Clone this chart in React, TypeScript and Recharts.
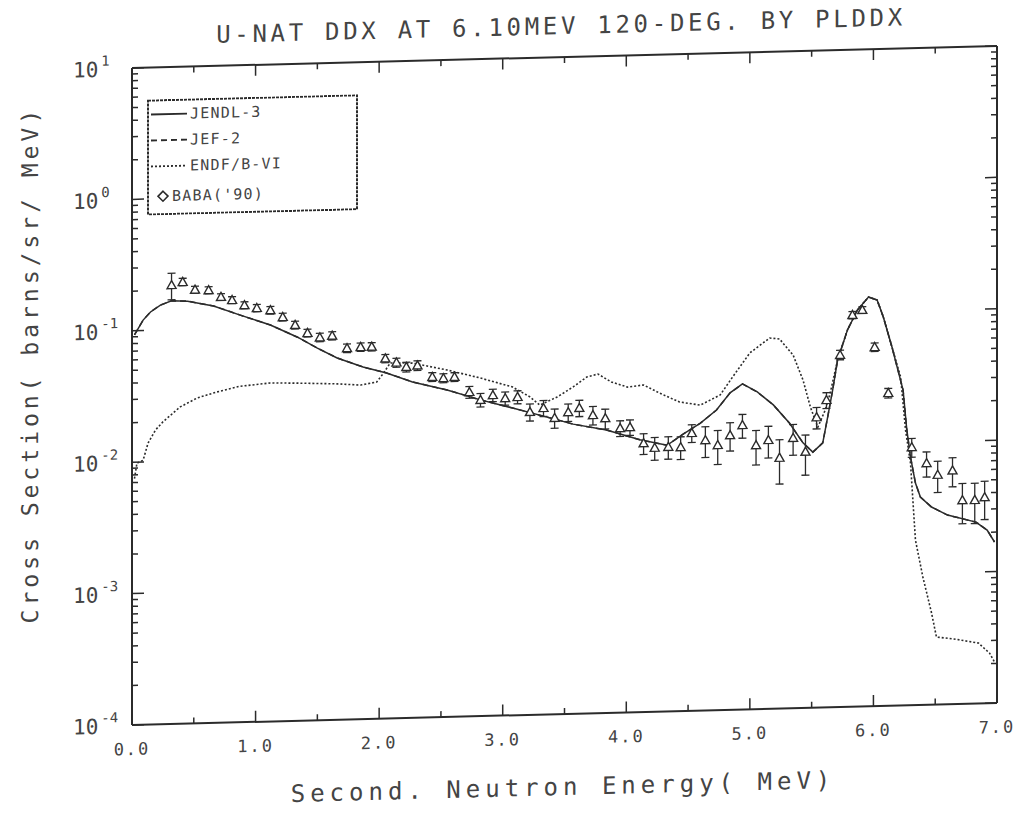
import React from 'react';
import { ComposedChart, Line, Scatter, XAxis, YAxis, ErrorBar, Legend } from 'recharts';

// energies in MeV, cross sections in barns/sr/MeV
const jendlE = [0.02, 0.09, 0.15, 0.23, 0.32, 0.45, 0.66, 0.87, 1.12, 1.34, 1.5, 1.66, 1.87, 2.06, 2.27, 2.55, 2.82, 3.08, 3.36, 3.57, 3.84, 4.11, 4.33, 4.46, 4.6, 4.73, 4.84, 4.94, 5.06, 5.19, 5.32, 5.43, 5.51, 5.59, 5.63, 5.67, 5.71, 5.79, 5.87, 5.96, 6.03, 6.08, 6.15, 6.24, 6.27, 6.3, 6.34, 6.38, 6.47, 6.6, 6.83, 6.92, 6.98];
const jendlV = [0.093, 0.12, 0.138, 0.155, 0.166, 0.164, 0.149, 0.126, 0.104, 0.083, 0.068, 0.0567, 0.0478, 0.0426, 0.036, 0.0308, 0.0255, 0.0218, 0.0183, 0.016, 0.0142, 0.0118, 0.0106, 0.0128, 0.0154, 0.0192, 0.0258, 0.03, 0.0259, 0.0205, 0.0148, 0.0104, 0.0088, 0.0103, 0.0162, 0.0259, 0.0438, 0.0738, 0.104, 0.13, 0.123, 0.091, 0.0536, 0.0251, 0.0125, 0.00774, 0.00489, 0.00382, 0.00319, 0.00275, 0.0024, 0.00208, 0.00168];

// JEF-2 lies on top of JENDL-3 everywhere in the scan
const jefE = [0.02, 0.09, 0.15, 0.23, 0.32, 0.45, 0.66, 0.87, 1.12, 1.34, 1.5, 1.66, 1.87, 2.06, 2.27, 2.55, 2.82, 3.08, 3.36, 3.57, 3.84, 4.11, 4.33, 4.46, 4.6, 4.73, 4.84, 4.94, 5.06, 5.19, 5.32, 5.43, 5.51, 5.59, 5.63, 5.67, 5.71, 5.79, 5.87, 5.96, 6.03, 6.08, 6.15, 6.24, 6.27, 6.3, 6.34, 6.38, 6.47, 6.6, 6.83, 6.92, 6.98];
const jefV = [0.093, 0.12, 0.138, 0.155, 0.166, 0.164, 0.149, 0.126, 0.104, 0.083, 0.068, 0.0567, 0.0478, 0.0426, 0.036, 0.0308, 0.0255, 0.0218, 0.0183, 0.016, 0.0142, 0.0118, 0.0106, 0.0128, 0.0154, 0.0192, 0.0258, 0.03, 0.0259, 0.0205, 0.0148, 0.0104, 0.0088, 0.0103, 0.0162, 0.0259, 0.0438, 0.0738, 0.104, 0.13, 0.123, 0.091, 0.0536, 0.0251, 0.0125, 0.00774, 0.00489, 0.00382, 0.00319, 0.00275, 0.0024, 0.00208, 0.00168];

const endfE = [0.02, 0.04, 0.09, 0.13, 0.19, 0.25, 0.39, 0.53, 0.69, 0.87, 1.12, 1.38, 1.66, 1.85, 1.98, 2.03, 2.09, 2.27, 2.55, 2.82, 3.08, 3.22, 3.3, 3.44, 3.57, 3.68, 3.77, 3.88, 4.01, 4.14, 4.27, 4.43, 4.6, 4.76, 4.86, 5.0, 5.16, 5.24, 5.35, 5.43, 5.49, 5.55, 5.61, 5.65, 5.71, 5.79, 5.87, 5.96, 6.03, 6.08, 6.15, 6.22, 6.26, 6.3, 6.34, 6.4, 6.47, 6.51, 6.65, 6.85, 6.94, 6.98];
const endfV = [0.0075, 0.0098, 0.0103, 0.0139, 0.0174, 0.02, 0.0258, 0.03, 0.033, 0.036, 0.0377, 0.037, 0.036, 0.0349, 0.0365, 0.0419, 0.0507, 0.0501, 0.0437, 0.0374, 0.0315, 0.0263, 0.0227, 0.0259, 0.0307, 0.0363, 0.0381, 0.0329, 0.0299, 0.0308, 0.0265, 0.0225, 0.0211, 0.025, 0.034, 0.0515, 0.0663, 0.0649, 0.0487, 0.0313, 0.0194, 0.0136, 0.0183, 0.0246, 0.0438, 0.0738, 0.104, 0.13, 0.123, 0.091, 0.0536, 0.0316, 0.0124, 0.00695, 0.0018, 0.00094, 0.0005, 0.000326, 0.000313, 0.000288, 0.00024, 0.000205];

const babaE = [0.32, 0.41, 0.51, 0.62, 0.72, 0.81, 0.91, 1.01, 1.12, 1.22, 1.32, 1.42, 1.52, 1.62, 1.74, 1.85, 1.94, 2.05, 2.14, 2.22, 2.31, 2.43, 2.52, 2.61, 2.73, 2.82, 2.92, 3.02, 3.12, 3.22, 3.33, 3.42, 3.53, 3.62, 3.73, 3.83, 3.95, 4.03, 4.14, 4.23, 4.34, 4.44, 4.53, 4.64, 4.74, 4.84, 4.94, 5.05, 5.15, 5.24, 5.35, 5.45, 5.54, 5.62, 5.73, 5.83, 5.91, 6.01, 6.12, 6.31, 6.43, 6.52, 6.64, 6.72, 6.82, 6.9];
const babaV = [0.219, 0.23, 0.2, 0.197, 0.174, 0.164, 0.149, 0.141, 0.135, 0.119, 0.103, 0.089, 0.082, 0.084, 0.067, 0.068, 0.068, 0.055, 0.051, 0.047, 0.048, 0.039, 0.038, 0.0386, 0.0294, 0.0255, 0.0276, 0.026, 0.0264, 0.0202, 0.0215, 0.018, 0.0198, 0.0212, 0.0186, 0.0175, 0.0146, 0.0148, 0.0111, 0.0102, 0.0103, 0.0102, 0.013, 0.0114, 0.0104, 0.0123, 0.0146, 0.0102, 0.0111, 0.0081, 0.0114, 0.0089, 0.0162, 0.0218, 0.0478, 0.0957, 0.104, 0.054, 0.024, 0.0092, 0.0069, 0.0056, 0.006, 0.00355, 0.00354, 0.0037];
const babaErr = [0.05, 0.015, 0.012, 0.012, 0.01, 0.01, 0.009, 0.009, 0.009, 0.008, 0.007, 0.006, 0.006, 0.006, 0.005, 0.005, 0.005, 0.004, 0.004, 0.004, 0.004, 0.003, 0.003, 0.003, 0.003, 0.003, 0.003, 0.003, 0.003, 0.003, 0.003, 0.003, 0.003, 0.003, 0.003, 0.003, 0.002, 0.002, 0.002, 0.002, 0.002, 0.002, 0.002, 0.003, 0.003, 0.003, 0.003, 0.003, 0.003, 0.003, 0.003, 0.003, 0.003, 0.003, 0.004, 0.006, 0.006, 0.004, 0.002, 0.0015, 0.0015, 0.0015, 0.0015, 0.0012, 0.0012, 0.0012];

const xTicks = [0, 0.5, 1, 1.5, 2, 2.5, 3, 3.5, 4, 4.5, 5, 5.5, 6, 6.5, 7];
const decades = [-4, -3, -2, -1, 0];
const mantissas = [1, 2, 3, 4, 5, 6, 7, 8, 9];
const yTicks = decades.flatMap(d => mantissas.map(m => m * Math.pow(10, d))).concat(10);

const LEGEND_ITEMS = [
  { name: 'JENDL-3', dash: undefined },
  { name: 'JEF-2', dash: '6 4' },
  { name: 'ENDF/B-VI', dash: '2 2' },
];

const INK = '#2b2b2b';
const TEXT = '#444';
const MONO = '"DejaVu Sans Mono", "Liberation Mono", monospace';

const toPoints = (e: number[], v: number[]) => e.map((x, i) => ({ e: x, v: v[i] }));
const babaPoints = babaE.map((x, i) => ({ e: x, v: babaV[i], err: babaErr[i] }));

function XTick(props: any) {
  const { x, y, payload, orient } = props;
  const v = payload.value;
  const major = Math.abs(v - Math.round(v)) < 1e-6;
  const len = major ? 11 : 6;
  const dir = orient === 'bottom' ? -1 : 1;
  return (
    <g>
      <line x1={x} y1={y} x2={x} y2={y + dir * len} stroke={INK} strokeWidth={1.5} />
      {major && orient === 'bottom' && (
        <text x={x} y={y + 30} textAnchor="middle" fontFamily={MONO} fontSize={17} letterSpacing={2} fill={TEXT}>
          {v.toFixed(1)}
        </text>
      )}
    </g>
  );
}

function YTick(props: any) {
  const { x, y, payload, side } = props;
  const lg = Math.log10(payload.value);
  const exp = Math.round(lg);
  const major = Math.abs(lg - exp) < 1e-6;
  const len = major ? 12 : 6;
  const dir = side === 'left' ? 1 : -1;
  return (
    <g>
      <line x1={x} y1={y} x2={x + dir * len} y2={y} stroke={INK} strokeWidth={1.5} />
      {major && side === 'left' && (
        <text x={x - 59} y={y + 8} fontFamily={MONO} fontSize={21} fill={TEXT}>
          10
          <tspan dx={3} dy={-11} fontSize={14}>{exp}</tspan>
        </text>
      )}
    </g>
  );
}

function Marker(props: any) {
  const { cx, cy } = props;
  if (cx == null || cy == null) return null;
  return (
    <path
      d={`M${cx},${cy - 4.5}L${cx + 4.5},${cy + 3.5}L${cx - 4.5},${cy + 3.5}Z`}
      fill="#fff"
      stroke={INK}
      strokeWidth={1.4}
    />
  );
}

function LegendBox() {
  return (
    <svg width={211} height={116}>
      <rect x={1} y={1} width={209} height={114} fill="#fff" stroke={INK} strokeWidth={2} strokeDasharray="3 1" />
      {LEGEND_ITEMS.map((it, i) => (
        <g key={it.name}>
          <line x1={4} x2={40} y1={15 + i * 26} y2={15 + i * 26} stroke={INK} strokeWidth={1.8} strokeDasharray={it.dash} />
          <text x={43} y={20 + i * 26} fontFamily={MONO} fontSize={15} letterSpacing={1.2} fill={TEXT}>{it.name}</text>
        </g>
      ))}
      <path d="M16,92 L21,97 L16,102 L11,97 Z" fill="#fff" stroke={INK} strokeWidth={1.6} />
      <text x={25} y={102} fontFamily={MONO} fontSize={15} letterSpacing={1.2} fill={TEXT}>BABA('90)</text>
    </svg>
  );
}

export default function App() {
  return (
    <div
      style={{
        position: 'absolute',
        left: 0,
        top: 0,
        width: 1017,
        height: 813,
        background: '#fff',
        transform: 'skewY(-1.46deg)',
        transformOrigin: '132px 0px',
      }}
    >
      <div
        style={{
          position: 'absolute',
          left: 0,
          width: 1017,
          top: 23,
          textAlign: 'center',
          paddingLeft: 105,
          boxSizing: 'border-box',
          fontFamily: MONO,
          fontSize: 24,
          letterSpacing: 3.7,
          color: TEXT,
        }}
      >
        U-NAT DDX AT 6.10MEV 120-DEG. BY PLDDX
      </div>
      <div
        style={{
          position: 'absolute',
          left: 30,
          top: 362,
          transform: 'translate(-50%, -50%) rotate(-90deg)',
          whiteSpace: 'nowrap',
          fontFamily: MONO,
          fontSize: 23,
          letterSpacing: 4,
          color: TEXT,
        }}
      >
        Cross Section( barns/sr/ MeV)
      </div>
      <div
        style={{
          position: 'absolute',
          left: 563,
          top: 798,
          transform: 'translate(-50%, -50%)',
          whiteSpace: 'nowrap',
          fontFamily: MONO,
          fontSize: 24,
          letterSpacing: 5,
          color: TEXT,
        }}
      >
        Second. Neutron Energy( MeV)
      </div>
      <ComposedChart width={1017} height={813} margin={{ top: 0, right: 0, bottom: 0, left: 0 }}>
        <XAxis
          xAxisId="b"
          type="number"
          dataKey="e"
          orientation="bottom"
          domain={[0, 7]}
          ticks={xTicks}
          interval={0}
          allowDataOverflow
          height={88}
          tickSize={0}
          tickMargin={0}
          tickLine={false}
          axisLine={{ stroke: INK, strokeWidth: 2 }}
          tick={(p: any) => <XTick {...p} orient="bottom" />}
        />
        <XAxis
          xAxisId="t"
          type="number"
          dataKey="e"
          orientation="top"
          domain={[0, 7]}
          ticks={xTicks}
          interval={0}
          allowDataOverflow
          height={68}
          tickSize={0}
          tickMargin={0}
          tickLine={false}
          axisLine={{ stroke: INK, strokeWidth: 2 }}
          tick={(p: any) => <XTick {...p} orient="top" />}
        />
        <YAxis
          yAxisId="l"
          type="number"
          scale="log"
          domain={[1e-4, 10]}
          ticks={yTicks}
          interval={0}
          allowDataOverflow
          width={132}
          tickSize={0}
          tickMargin={0}
          tickLine={false}
          axisLine={{ stroke: INK, strokeWidth: 2 }}
          tick={(p: any) => <YTick {...p} side="left" />}
        />
        <YAxis
          yAxisId="r"
          orientation="right"
          type="number"
          scale="log"
          domain={[1e-4, 10]}
          ticks={yTicks}
          interval={0}
          allowDataOverflow
          width={20}
          tickSize={0}
          tickMargin={0}
          tickLine={false}
          axisLine={{ stroke: INK, strokeWidth: 2 }}
          tick={(p: any) => <YTick {...p} side="right" />}
        />
        <Legend
          layout="vertical"
          align="center"
          verticalAlign="middle"
          wrapperStyle={{ position: 'absolute', left: 147, top: 100, width: 211, height: 116 }}
          content={() => <LegendBox />}
        />
        <Line
          xAxisId="b"
          yAxisId="l"
          data={toPoints(endfE, endfV)}
          dataKey="v"
          name="ENDF/B-VI"
          stroke={INK}
          strokeWidth={1.6}
          strokeDasharray="2 2"
          dot={false}
          isAnimationActive={false}
        />
        <Line
          xAxisId="b"
          yAxisId="l"
          data={toPoints(jendlE, jendlV)}
          dataKey="v"
          name="JENDL-3"
          stroke={INK}
          strokeWidth={1.5}
          dot={false}
          isAnimationActive={false}
        />
        <Line
          xAxisId="b"
          yAxisId="l"
          data={toPoints(jefE, jefV)}
          dataKey="v"
          name="JEF-2"
          stroke={INK}
          strokeWidth={1.5}
          strokeDasharray="6 4"
          dot={false}
          isAnimationActive={false}
        />
        <Scatter
          xAxisId="b"
          yAxisId="l"
          data={babaPoints}
          dataKey="v"
          name="BABA('90)"
          shape={<Marker />}
          isAnimationActive={false}
        >
          <ErrorBar dataKey="err" direction="y" width={4} stroke={INK} strokeWidth={1.3} />
        </Scatter>
      </ComposedChart>
    </div>
  );
}
